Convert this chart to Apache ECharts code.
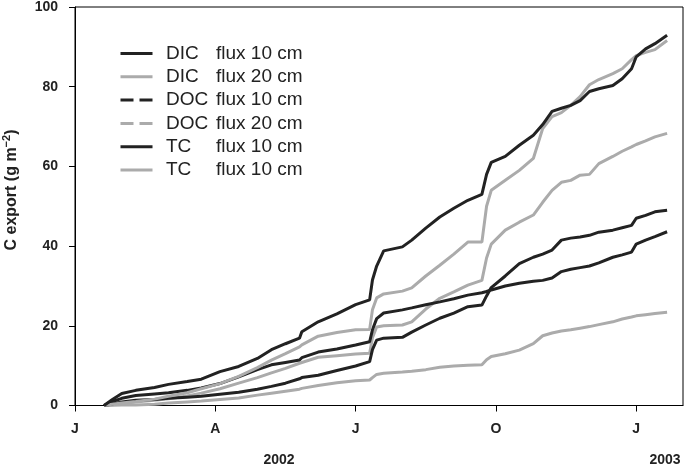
<!DOCTYPE html>
<html><head><meta charset="utf-8">
<script src="https://cdn.jsdelivr.net/npm/echarts@6/dist/echarts.min.js"></script>
<style>html,body{margin:0;padding:0;background:#fff}#c{width:685px;height:467px}</style>
</head><body><div id="c"></div>
<script>
// x positions in months since 1 Jan 2002
const months = [0.62,0.8,1.0,1.3,1.7, 2.0,2.4,2.7,3.1,3.5, 3.9,4.2,4.5,4.8,4.85, 5.2,5.6,6.0,6.3,6.36, 6.45,6.6,7.0,7.2,7.5, 7.8,8.1,8.4,8.7,8.8, 8.9,9.2,9.5,9.8,10.0, 10.2,10.4,10.6,10.8,11.0, 11.2,11.5,11.7,11.9,12.0, 12.2,12.4,12.66];
const dic10 = [0,1.0,1.8,2.5,2.9, 3.2,3.8,4.4,5.5,7.2, 9.0,10.2,10.8,11.4,12.0, 13.4,14.2,15.2,16.0,19.0, 21.8,23.2,24.0,24.5,25.3, 26.0,26.8,27.7,28.3,28.6, 29.0,30.0,30.7,31.2,31.4, 32.0,33.6,34.2,34.6,35.0, 35.8,37.2,37.8,38.5,40.5, 41.5,42.4,43.6];
const dic20 = [0,0.05,0.1,0.1,0.3, 0.6,0.9,1.1,1.5,1.9, 2.6,3.1,3.6,4.1,4.3, 5.0,5.7,6.2,6.4,7.0, 7.8,8.1,8.4,8.6,9.0, 9.6,9.9,10.1,10.2,11.5, 12.3,13.0,13.9,15.5,17.5, 18.2,18.7,19.0,19.4,19.8, 20.3,21.0,21.7,22.2,22.5, 22.8,23.1,23.4];
const doc10 = [0,0.4,0.9,1.3,1.5, 1.8,2.1,2.3,2.8,3.3, 4.1,4.8,5.6,6.7,7.0, 7.6,8.8,9.9,11.0,14.0, 16.4,16.9,17.1,18.4,20.2, 21.9,23.2,24.8,25.2,27.5, 29.6,32.5,35.6,37.2,38.0, 39.0,41.5,42.0,42.3,42.7, 43.5,44.0,44.6,45.2,47.0, 47.7,48.6,49.0];
const doc20 = [0,0.2,0.5,0.9,1.3, 1.7,2.4,3.1,4.2,5.6, 7.0,8.2,9.3,10.6,10.8, 12.1,12.5,12.9,13.1,17.0, 19.7,20.0,20.2,21.0,24.2, 26.9,28.5,30.2,31.4,37.0, 40.5,44.0,46.0,47.8,51.0, 54.0,56.0,56.5,57.8,58.0, 60.7,62.5,63.8,64.9,65.5, 66.4,67.4,68.3];
const tc10 = [0,1.5,3.0,3.8,4.5, 5.3,6.0,6.6,8.5,9.8, 11.8,14.0,15.5,16.9,18.5, 21.0,23.0,25.3,26.5,31.5, 35.0,38.8,39.8,41.5,44.5, 47.3,49.5,51.5,53.0,58.0, 61.0,62.5,65.3,67.8,70.5, 73.8,74.6,75.3,76.5,78.8, 79.5,80.3,82.0,84.5,87.5, 89.5,90.8,92.9];
const tc20 = [0,0.3,0.6,1.0,1.6, 2.3,3.2,4.2,5.5,7.3, 9.5,11.4,13.0,14.7,15.2, 17.4,18.3,19.0,19.1,24.0, 27.0,28.0,28.7,29.5,32.5, 35.2,38.0,41.0,41.0,50.0, 54.0,56.5,59.0,62.0,69.5, 72.5,73.5,75.3,77.5,80.5, 81.8,83.3,84.5,86.8,87.8, 88.6,89.3,91.6];

const seriesKeys = ['DIC10','DIC20','DOC10','DOC20','TC10','TC20'];
const seriesValues = [dic10, dic20, doc10, doc20, tc10, tc20];
const legendPrefix = ['DIC','DIC','DOC','DOC','TC','TC'];
const legendSuffix = ['flux 10 cm','flux 20 cm','flux 10 cm','flux 20 cm','flux 10 cm','flux 10 cm'];
const xTickLabels = {0:'J',3:'A',6:'J',9:'O',12:'J'};
const yearLabels = ['2002','2003'];
const yTitle = ['C export (g m','\u22122',')'];

const BLACK = '#222', GRAY = '#ababab';
const SOLID_ICON = 'path://M0,0H32V3H0Z';
const DASH_ICON = 'path://M0,0H13V3H0Z M19,0H32V3H19Z';
const styles = {
  DIC10:{color:BLACK, icon:SOLID_ICON}, DIC20:{color:GRAY, icon:SOLID_ICON},
  DOC10:{color:BLACK, icon:DASH_ICON}, DOC20:{color:GRAY, icon:DASH_ICON},
  TC10:{color:BLACK, icon:SOLID_ICON}, TC20:{color:GRAY, icon:SOLID_ICON}
};
const FONT = 'Arial, "Liberation Sans", sans-serif';

const drawOrder = [1,3,0,2,5,4];
const series = drawOrder.map(i => ({
  name: seriesKeys[i], type:'line', symbol:'none', smooth:false,
  data: months.map((m,j)=>[m, seriesValues[i][j]]),
  lineStyle:{color:styles[seriesKeys[i]].color, width:3},
  itemStyle:{color:styles[seriesKeys[i]].color}
}));

const chart = echarts.init(document.getElementById('c'), null, {renderer:'canvas'});
chart.setOption({
  animation:false,
  backgroundColor:'#fff',
  grid:{left:75, right:2, top:6.5, bottom:61.5, show:true, borderColor:'#000', borderWidth:1},
  legend:{
    show:true, orient:'vertical', left:120.5, top:44, padding:0,
    itemWidth:32, itemHeight:3, itemGap:4.3,
    data: seriesKeys.map(k => ({name:k, icon:styles[k].icon})),
    formatter: function(name){ const i = seriesKeys.indexOf(name); return '{a|'+legendPrefix[i]+'}{b|'+legendSuffix[i]+'}'; },
    textStyle:{fontFamily:FONT, fontSize:19, color:'#222',
      rich:{a:{width:50, padding:[0,0,0,8.5], fontFamily:FONT, fontSize:19, lineHeight:18, color:'#222'}, b:{fontFamily:FONT, fontSize:19, lineHeight:18, color:'#222'}}},
    selectedMode:false
  },
  xAxis:{type:'value', min:0, max:13, interval:3,
    axisLine:{lineStyle:{color:'#000', width:1}},
    axisTick:{length:6, lineStyle:{color:'#000'}},
    splitLine:{show:false},
    axisLabel:{margin:17, fontFamily:FONT, fontSize:14, fontWeight:'bold', color:'#222',
      formatter: function(v){ return xTickLabels[v] || ''; }, showMaxLabel:false}
  },
  yAxis:{type:'value', min:0, max:100, interval:20,
    axisLine:{show:true, lineStyle:{color:'#000', width:1}},
    axisTick:{show:true, length:6, lineStyle:{color:'#000'}},
    splitLine:{show:false},
    axisLabel:{margin:17, fontFamily:FONT, fontSize:14, fontWeight:'bold', color:'#222'}
  },
  graphic:[
    {type:'text', x:279, y:460, style:{text:yearLabels[0], font:'bold 14px '+FONT, fill:'#222', align:'center', verticalAlign:'middle'}},
    {type:'text', x:665, y:460, style:{text:yearLabels[1], font:'bold 14px '+FONT, fill:'#222', align:'center', verticalAlign:'middle'}},
    {type:'text', x:12, y:190, rotation:Math.PI/2, style:{
      text:'{a|'+yTitle[0]+'}{s|'+yTitle[1]+'}{a|'+yTitle[2]+'}',
      align:'center', verticalAlign:'middle',
      rich:{a:{font:'bold 16px '+FONT, fill:'#222', lineHeight:20}, s:{font:'bold 11px '+FONT, fill:'#222', lineHeight:20, padding:[0,0,10,0]}}
    }}
  ],
  series: series
});
</script></body></html>
